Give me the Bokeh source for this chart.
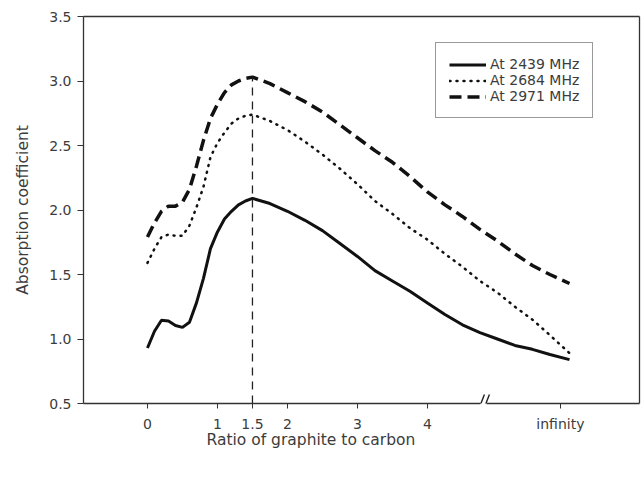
from bokeh.plotting import figure
from bokeh.models import FixedTicker, Legend, LegendItem, Range1d, LinearAxis, Title
from bokeh.embed import file_html
from bokeh.resources import INLINE

# ---- data ----
x_vals = [0, 0.1, 0.2, 0.3, 0.4, 0.5, 0.6, 0.7, 0.8, 0.9, 1.0, 1.1, 1.2, 1.3, 1.4, 1.5,
          1.75, 2.0, 2.25, 2.5, 2.75, 3.0, 3.25, 3.5, 3.75, 4.0, 4.25, 4.5, 4.75,
          5.0, 5.25, 5.5, 5.75, 6.03]
y_2439 = [0.93, 1.06, 1.145, 1.14, 1.105, 1.09, 1.13, 1.28, 1.47, 1.70, 1.83, 1.93, 1.99,
          2.04, 2.07, 2.09, 2.05, 1.99, 1.92, 1.84, 1.74, 1.64, 1.53, 1.45, 1.37, 1.28,
          1.19, 1.11, 1.05, 1.00, 0.95, 0.92, 0.88, 0.84]
y_2684 = [1.59, 1.70, 1.79, 1.81, 1.80, 1.80, 1.88, 2.02, 2.18, 2.41, 2.52, 2.60, 2.67,
          2.71, 2.73, 2.74, 2.69, 2.62, 2.53, 2.43, 2.32, 2.20, 2.07, 1.97, 1.86, 1.77,
          1.66, 1.56, 1.45, 1.36, 1.25, 1.15, 1.03, 0.89]
y_2971 = [1.79, 1.90, 1.99, 2.03, 2.03, 2.06, 2.16, 2.34, 2.54, 2.71, 2.82, 2.91, 2.97,
          3.00, 3.02, 3.03, 2.98, 2.91, 2.84, 2.76, 2.66, 2.56, 2.46, 2.37, 2.26, 2.14,
          2.04, 1.95, 1.85, 1.76, 1.66, 1.57, 1.50, 1.43]
series_names = ["At 2439 MHz", "At 2684 MHz", "At 2971 MHz"]
x_ticks = [0, 1, 1.5, 2, 3, 4, 5.9]
x_tick_labels = ["0", "1", "1.5", "2", "3", "4", "infinity"]
y_ticks = [0.5, 1.0, 1.5, 2.0, 2.5, 3.0, 3.5]
y_tick_labels = ["0.5", "1.0", "1.5", "2.0", "2.5", "3.0", "3.5"]
peak_x = 1.5
peak_top = 3.03
break_x = 4.8
x_title = "Ratio of graphite to carbon"
y_title = "Absorption coefficient"

INK = "#111111"
AX = "#333333"
TXT = "#3c3c3c"

X_START, X_END = -0.914, 7.03
FRAME_W, FRAME_H = 556.0, 387.0
y0, y1 = y_ticks[0], y_ticks[-1]
ux = (X_END - X_START) / FRAME_W   # data units per pixel, x
uy = (y1 - y0) / FRAME_H           # data units per pixel, y

p = figure(width=644, height=477,
           x_range=Range1d(X_START, X_END), y_range=Range1d(y0, y1),
           output_backend="svg", toolbar_location=None,
           min_border_left=83, min_border_right=5, min_border_top=16, min_border_bottom=74)
p.grid.visible = False
p.outline_line_color = None
p.background_fill_color = "white"

r1 = p.line(x_vals, y_2439, line_color=INK, line_width=3)
r2 = p.line(x_vals, y_2684, line_color=INK, line_width=2.5, line_dash="1 6", line_cap="round")
r3 = p.line(x_vals, y_2971, line_color=INK, line_width=3.5, line_dash="12 6")

p.segment(x0=[peak_x], y0=[y0], x1=[peak_x], y1=[peak_top],
          line_color="#222222", line_width=1.3, line_dash="8 6")

# axis break mark "//" (upper part visible above the axis)
brk_x0 = [break_x - 6 * ux, break_x - 1 * ux]
brk_x1 = [break_x + 1 * ux, break_x + 6 * ux]
p.segment(x0=brk_x0, y0=[y0 - 9 * uy] * 2, x1=brk_x1, y1=[y0 + 9 * uy] * 2,
          line_color="#222222", line_width=1.4)

# x axis (line broken at the axis break)
gap_start = (break_x - X_START) / ux - 3
xa = p.xaxis[0]
xa.ticker = FixedTicker(ticks=x_ticks)
xa.major_label_overrides = {float(t): lab for t, lab in zip(x_ticks, x_tick_labels)}
xa.minor_tick_line_color = None
xa.major_tick_out = 5
xa.major_tick_in = 0
xa.major_label_standoff = 7
xa.axis_line_color = AX
xa.axis_line_width = 1.3
xa.axis_line_dash = "%d 6 2000" % round(gap_start)
xa.major_tick_line_color = AX
xa.major_label_text_font = "DejaVu Sans"
xa.major_label_text_font_size = "14px"
xa.major_label_text_color = TXT

# y axis
ya = p.yaxis[0]
ya.ticker = FixedTicker(ticks=y_ticks)
ya.major_label_overrides = {float(t): lab for t, lab in zip(y_ticks, y_tick_labels)}
ya.minor_tick_line_color = None
ya.major_tick_out = 6
ya.major_tick_in = 0
ya.major_label_standoff = 6
ya.axis_line_color = AX
ya.axis_line_width = 1.3
ya.major_tick_line_color = AX
ya.major_label_text_font = "DejaVu Sans"
ya.major_label_text_font_size = "14px"
ya.major_label_text_color = TXT
ya.axis_label = y_title
ya.axis_label_text_font = "DejaVu Sans"
ya.axis_label_text_font_size = "15.5px"
ya.axis_label_text_font_style = "normal"
ya.axis_label_text_color = TXT
ya.axis_label_standoff = 14

# top and right frame lines
for side in ("above", "right"):
    ax = LinearAxis(ticker=FixedTicker(ticks=[]), major_tick_out=0, major_tick_in=0,
                    minor_tick_out=0, minor_tick_in=0, major_label_standoff=0,
                    major_label_text_font_size="0px", axis_line_color=AX,
                    axis_line_width=1.3)
    p.add_layout(ax, side)

# x axis title, placed left of centre as in the reference
p.add_layout(Title(text=x_title, align="left", offset=123, standoff=-8,
                   vertical_align="top",
                   text_font="DejaVu Sans", text_font_size="15.5px",
                   text_font_style="normal", text_color=TXT), "below")

legend = Legend(items=[LegendItem(label=n, renderers=[r]) for n, r in zip(series_names, [r1, r2, r3])],
                location=(352, 285))
legend.border_line_color = AX
legend.border_line_width = 1
legend.background_fill_alpha = 1
legend.padding = 13
legend.spacing = 0
legend.margin = 0
legend.glyph_width = 37
legend.glyph_height = 13
legend.label_height = 13
legend.label_standoff = 4
legend.label_text_font = "DejaVu Sans"
legend.label_text_font_size = "14px"
legend.label_text_color = TXT
p.add_layout(legend)

open("out.html", "w").write(file_html(p, INLINE))
